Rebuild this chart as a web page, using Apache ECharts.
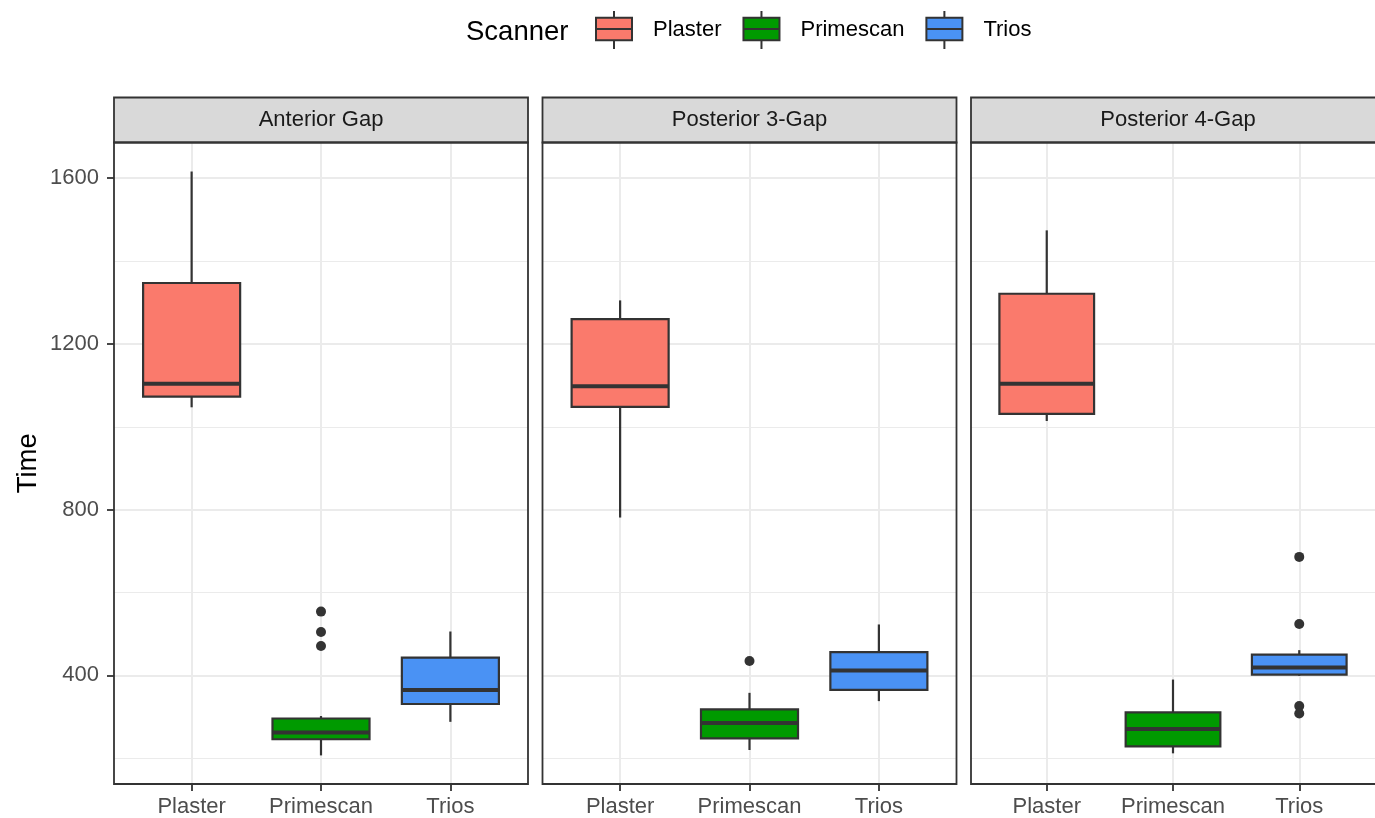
<!DOCTYPE html>
<html>
<head>
<meta charset="utf-8">
<title>Time by scanner</title>
<script src="https://cdn.jsdelivr.net/npm/echarts@6.0.0/dist/echarts.min.js"></script>
<style>
  body { margin: 0; background: #fff; }
  #boxGraph { width: 1375px; height: 818px; }
</style>
</head>
<body>
<div id="boxGraph"></div>
<script>
var scanners = ['Plaster', 'Primescan', 'Trios'];
var gaps = ['Anterior Gap', 'Posterior 3-Gap', 'Posterior 4-Gap'];
var yTicks = [400, 800, 1200, 1600];
var yMinorTicks = [200, 600, 1000, 1400];

// [lower whisker, Q1, median, Q3, upper whisker], one row per scanner
var anteriorBoxes = [
  [1047, 1073, 1104, 1347, 1616],
  [207, 246, 262, 296, 302],
  [288, 331, 365, 443, 506]
];
var posterior3Boxes = [
  [781, 1048, 1098, 1260, 1305],
  [220, 248, 285, 318, 358],
  [338, 365, 412, 456, 523]
];
var posterior4Boxes = [
  [1014, 1031, 1104, 1321, 1474],
  [212, 229, 271, 311, 390],
  [399, 402, 419, 450, 461]
];

// outlying points, one list per scanner
var anteriorOutliers = [[], [554, 505, 471], []];
var posterior3Outliers = [[], [435], []];
var posterior4Outliers = [[], [], [686, 524, 326, 308]];

var boxes = [anteriorBoxes, posterior3Boxes, posterior4Boxes];
var outliers = [anteriorOutliers, posterior3Outliers, posterior4Outliers];

var colors = ['#FA7A6C', '#009A00', '#4A92F4'];
var lineColor = '#333333';
var panelLeft = [114, 542.5, 971];
var panelWidth = 414;
var panelTop = 142.5;
var panelHeight = 641.5;
var stripTop = 97.5;
var stripHeight = 45;
var boxWidth = 0.75;

var boxIcon = 'path://M18,0L18,6.7M0,6.7L36,6.7L36,18L0,18ZM0,18L36,18L36,29.3L0,29.3ZM18,29.3L18,38';

function renderBox(params, api) {
  var x = api.value(0);
  var lo = api.coord([x, api.value(1)]);
  var q1 = api.coord([x, api.value(2)]);
  var md = api.coord([x, api.value(3)]);
  var q3 = api.coord([x, api.value(4)]);
  var hi = api.coord([x, api.value(5)]);
  var half = api.size([boxWidth, 0])[0] / 2;
  return {
    type: 'group',
    children: [
      { type: 'line', shape: { x1: lo[0], y1: lo[1], x2: q1[0], y2: q1[1] }, style: { stroke: lineColor, lineWidth: 2.2 } },
      { type: 'line', shape: { x1: q3[0], y1: q3[1], x2: hi[0], y2: hi[1] }, style: { stroke: lineColor, lineWidth: 2.2 } },
      { type: 'rect', shape: { x: q3[0] - half, y: q3[1], width: half * 2, height: q1[1] - q3[1] },
        style: { fill: api.visual('color'), stroke: lineColor, lineWidth: 2.2 } },
      { type: 'line', shape: { x1: md[0] - half, y1: md[1], x2: md[0] + half, y2: md[1] }, style: { stroke: lineColor, lineWidth: 4 } }
    ]
  };
}

var grids = [], xAxes = [], yAxes = [], series = [], graphics = [];

for (var p = 0; p < gaps.length; p++) {
  grids.push({ left: panelLeft[p], top: panelTop, width: panelWidth, height: panelHeight, show: false });
  xAxes.push({
    gridIndex: p, type: 'value', min: 0.4, max: 3.6,
    axisLine: { show: false },
    axisTick: { show: true, customValues: [1, 2, 3], length: 7, lineStyle: { color: lineColor, width: 1.8 } },
    axisLabel: {
      customValues: [1, 2, 3], margin: 12, fontSize: 22, color: '#4D4D4D', fontFamily: 'Liberation Sans',
      formatter: function (v) { return scanners[Math.round(v) - 1]; }
    },
    splitLine: { show: true, lineStyle: { color: '#EBEBEB', width: 2 } }
  });
  // major
  yAxes.push({
    gridIndex: p, type: 'value', min: 138, max: 1686,
    axisLine: { show: false },
    axisTick: { show: p === 0, customValues: yTicks, length: 7, lineStyle: { color: lineColor, width: 1.8 } },
    axisLabel: {
      show: p === 0, customValues: yTicks, margin: 15, fontSize: 22, color: '#4D4D4D', fontFamily: 'Liberation Sans',
      formatter: function (v) { return String(v); }
    },
    splitLine: { show: true, lineStyle: { color: '#EBEBEB', width: 2 } }
  });
  // minor
  yAxes.push({
    gridIndex: p, type: 'value', min: 138, max: 1686,
    axisLine: { show: false },
    axisTick: { show: false, customValues: yMinorTicks },
    axisLabel: { show: false, customValues: yMinorTicks },
    splitLine: { show: true, lineStyle: { color: '#EBEBEB', width: 1 } }
  });

  for (var s = 0; s < scanners.length; s++) {
    var b = boxes[p][s];
    series.push({
      name: scanners[s], type: 'custom', xAxisIndex: p, yAxisIndex: p * 2,
      renderItem: renderBox,
      itemStyle: { color: colors[s] },
      encode: { x: 0, y: [1, 2, 3, 4, 5] },
      data: [[s + 1, b[0], b[1], b[2], b[3], b[4]]],
      z: 3
    });
  }

  var pts = [];
  for (var s2 = 0; s2 < scanners.length; s2++) {
    outliers[p][s2].forEach(function (v) { pts.push([s2 + 1, v]); });
  }
  series.push({
    name: 'outliers', type: 'scatter', xAxisIndex: p, yAxisIndex: p * 2,
    data: pts, symbolSize: 10, itemStyle: { color: lineColor, opacity: 1 }, z: 4
  });

  // strip + panel border
  graphics.push({
    type: 'rect', shape: { x: panelLeft[p], y: stripTop, width: panelWidth, height: stripHeight },
    style: { fill: '#D9D9D9', stroke: lineColor, lineWidth: 1.8 }, z: 10
  });
  graphics.push({
    type: 'text', x: panelLeft[p] + panelWidth / 2, y: stripTop + stripHeight / 2,
    style: { text: gaps[p], fontSize: 22, fontFamily: 'Liberation Sans', fill: '#1A1A1A', align: 'center', verticalAlign: 'middle' }, z: 11
  });
  graphics.push({
    type: 'rect', shape: { x: panelLeft[p], y: panelTop, width: panelWidth, height: panelHeight },
    style: { fill: null, stroke: lineColor, lineWidth: 1.8 }, z: 10
  });
}

graphics.push({
  type: 'text', x: 466, y: 32,
  style: { text: 'Scanner', fontSize: 27.5, fontFamily: 'Liberation Sans', fill: '#000', align: 'left', verticalAlign: 'middle' }
});
graphics.push({
  type: 'text', x: 28, y: panelTop + panelHeight / 2, rotation: Math.PI / 2,
  style: { text: 'Time', fontSize: 27.5, fontFamily: 'Liberation Sans', fill: '#000', align: 'center', verticalAlign: 'middle' }
});

var chart = echarts.init(document.getElementById('boxGraph'));
chart.setOption({
  animation: false,
  backgroundColor: '#fff',
  legend: {
    data: scanners,
    left: 595, top: 10, padding: 0,
    itemWidth: 36, itemHeight: 38, itemGap: 21,
    icon: boxIcon,
    itemStyle: { borderColor: lineColor, borderWidth: 2 },
    textStyle: { fontSize: 22, color: '#000', fontFamily: 'Liberation Sans', padding: [5, 0, 0, 16] }
  },
  grid: grids,
  xAxis: xAxes,
  yAxis: yAxes,
  graphic: graphics,
  series: series
});
</script>
</body>
</html>
